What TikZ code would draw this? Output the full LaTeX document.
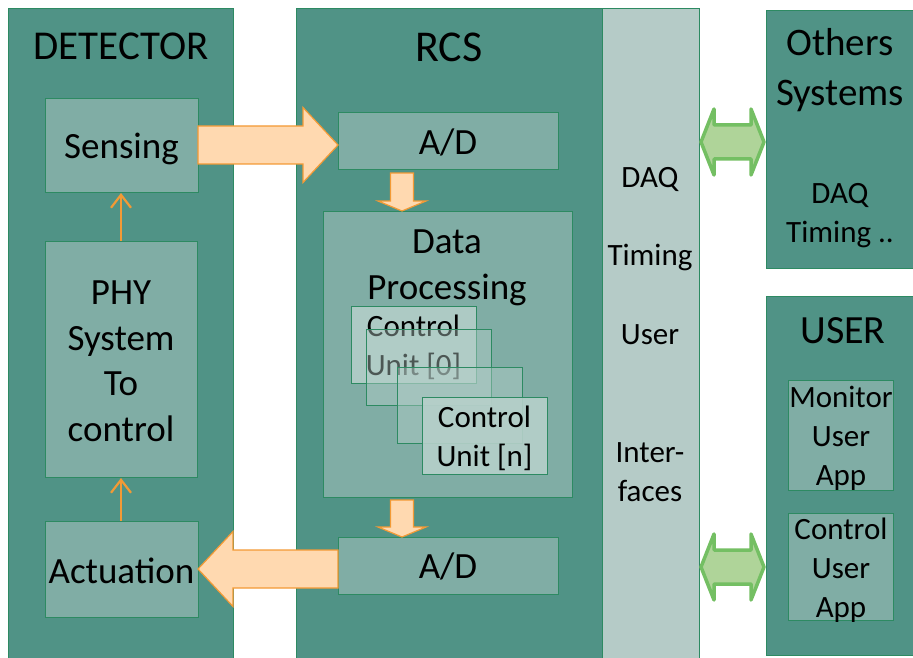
\documentclass[tikz,border=0pt]{standalone}
\usepackage{fontspec}
\setmainfont{Carlito}
\usetikzlibrary{calc,arrows.meta}
\definecolor{tealD}{HTML}{509386}
\definecolor{tealM}{HTML}{80ADA5}
\definecolor{tealL}{HTML}{B5CBC7}
\definecolor{cuL}{HTML}{B6D0CA}
\definecolor{bord}{HTML}{2D8A62}
\definecolor{ofill}{HTML}{FFD9B0}
\definecolor{oline}{HTML}{F39A35}
\definecolor{gfill}{HTML}{AFD499}
\definecolor{gline}{HTML}{74BF63}
\tikzset{
  box/.style={draw=bord, line width=0.9pt, inner sep=0pt, outer sep=0pt},
  fbig/.style={font=\fontsize{41}{50}\selectfont, align=center, inner sep=0pt},
  fmain/.style={font=\fontsize{37}{46}\selectfont, align=center, inner sep=0pt},
  fsmall/.style={font=\fontsize{31}{39}\selectfont, align=center, inner sep=0pt},
  oarrow/.style={fill=ofill, draw=oline, line width=1.2pt, line join=miter},
  garrow/.style={fill=gfill, draw=gline, line width=3.5pt, line join=round},
  thinarrow/.style={draw=oline, line width=2.2pt, -{Straight Barb[length=13pt,width=20pt,line width=2.2pt]}, shorten >=1pt}
}
\begin{document}
\begin{tikzpicture}[x=1pt,y=-1pt]
\useasboundingbox (0,0) rectangle (913,658);
% big columns
\node[box, fill=tealD, minimum width=225pt, minimum height=650pt] (det) at (120.5,333) {};
\node[box, fill=tealD, minimum width=306pt, minimum height=650pt] (rcs) at (449,333) {};
\node[box, fill=tealL, minimum width=97pt, minimum height=650pt] (daq) at (650.5,333) {};
\node[box, fill=tealD, minimum width=148pt, minimum height=258pt] (oth) at (840,139) {};
\node[box, fill=tealD, minimum width=148pt, minimum height=359pt] (usr) at (840,475.5) {};
% titles
\node[fbig] (tdet) at (121,46) {DETECTOR};
\node[fbig, font=\fontsize{44}{50}\selectfont] (trcs) at (449,47) {RCS};
\node[fbig, font=\fontsize{39}{50}\selectfont] (toth) at (840,70) {Others\\Systems};
\node[fsmall] (toth2) at (840,216) {DAQ\\Timing ..};
\node[fbig, font=\fontsize{40}{50}\selectfont] (tusr) at (843,331) {USER};
% detector inner
\node[box, fill=tealM, minimum width=153pt, minimum height=94pt] (sens) at (121.5,145) {};
\node[fmain] at (121.5,149) {Sensing};
\node[box, fill=tealM, minimum width=152pt, minimum height=236pt] (phy) at (121,359) {};
\node[fmain, font=\fontsize{37}{45.5}\selectfont] at (121,361.5) {PHY\\System\\To\\control};
\node[box, fill=tealM, minimum width=153pt, minimum height=96pt] (act) at (121.5,569) {};
\node[fmain] at (121.5,571) {Actuation};
% rcs inner
\node[box, fill=tealM, minimum width=220pt, minimum height=57pt] (ad1) at (448,140.5) {};
\node[fmain] at (448,142.5) {A/D};
\node[box, fill=tealM, minimum width=249pt, minimum height=286pt] (dp) at (447.5,354) {};
\node[fmain] at (447,268) {Data\\Processing};
\node[box, fill=tealM, minimum width=220pt, minimum height=57pt] (ad2) at (448,565.5) {};
\node[fmain] at (448,566.5) {A/D};
% control units
\node[box, fill=cuL, fill opacity=0.85, minimum width=125pt, minimum height=77pt] (cu0) at (413.5,344.5) {};
\node[fsmall] at (413.5,347.5) {Control\\Unit [0]};
\node[box, fill=cuL, fill opacity=0.42, minimum width=125pt, minimum height=76pt] (cu1) at (428.5,367) {};
\node[box, fill=cuL, fill opacity=0.42, minimum width=125pt, minimum height=76pt] (cu2) at (459.5,405) {};
\node[box, fill=cuL, fill opacity=0.9, minimum width=125pt, minimum height=77pt] (cun) at (484.5,435.5) {};
\node[fsmall] at (484.5,438.5) {Control\\Unit [n]};
% daq column texts
\node[fsmall] (l1) at (650,179) {DAQ};
\node[fsmall] (l2) at (650,257) {Timing};
\node[fsmall] (l3) at (650,335) {User};
\node[fsmall] (l4) at (650,472) {Inter-\\faces};
% user inner
\node[box, fill=tealM, minimum width=105pt, minimum height=110pt] (mon) at (840.5,435) {};
\node[fsmall] at (841,438) {Monitor\\User\\App};
\node[box, fill=tealM, minimum width=105pt, minimum height=107pt] (ctl) at (840.5,566.5) {};
\node[fsmall] at (841,570) {Control\\User\\App};
% orange block arrows
\coordinate (t1) at (ad1.west |- sens.east);
\draw[oarrow] ($(sens.east)+(0,-19)$) -- ($(t1)+(-35,-19)$) -- ($(t1)+(-35,-37.5)$) -- (t1)
  -- ($(t1)+(-35,37.5)$) -- ($(t1)+(-35,19)$) -- ($(sens.east)+(0,19)$) -- cycle;
\coordinate (t2) at (ad2.west |- act.east);
\draw[oarrow] ($(t2)+(0,-19)$) -- ($(act.east)+(35,-19)$) -- ($(act.east)+(35,-37.5)$) -- (act.east)
  -- ($(act.east)+(35,37.5)$) -- ($(act.east)+(35,19)$) -- ($(t2)+(0,19)$) -- cycle;
% small down arrows
\coordinate (d1) at (402,211);
\coordinate (d2) at (402,537);
\draw[oarrow] ($(d1)+(-11.5,-38)$) -- ($(d1)+(11.5,-38)$) -- ($(d1)+(11.5,-10)$) -- ($(d1)+(24,-10)$) -- (d1)
  -- ($(d1)+(-24,-10)$) -- ($(d1)+(-11.5,-10)$) -- cycle;
\draw[oarrow] ($(d2)+(-11.5,-37)$) -- ($(d2)+(11.5,-37)$) -- ($(d2)+(11.5,-10)$) -- ($(d2)+(24,-10)$) -- (d2)
  -- ($(d2)+(-24,-10)$) -- ($(d2)+(-11.5,-10)$) -- cycle;
% thin arrows
\draw[thinarrow] (act.north -| 121,0) -- (phy.south -| 121,0);
\draw[thinarrow] (phy.north -| 121,0) -- (sens.south -| 121,0);
% green double arrows
\coordinate (g1a) at (701,142);
\coordinate (g1b) at (764,142);
\coordinate (g2a) at (701,567);
\coordinate (g2b) at (764,567);
\foreach \a/\b in {g1a/g1b, g2a/g2b}{
\draw[garrow] (\a) -- ($(\a)+(13,-33)$) -- ($(\a)+(13,-17)$) -- ($(\b)+(-13,-17)$) -- ($(\b)+(-13,-33)$) -- (\b)
  -- ($(\b)+(-13,33)$) -- ($(\b)+(-13,17)$) -- ($(\a)+(13,17)$) -- ($(\a)+(13,33)$) -- cycle;
}
\end{tikzpicture}
\end{document}
